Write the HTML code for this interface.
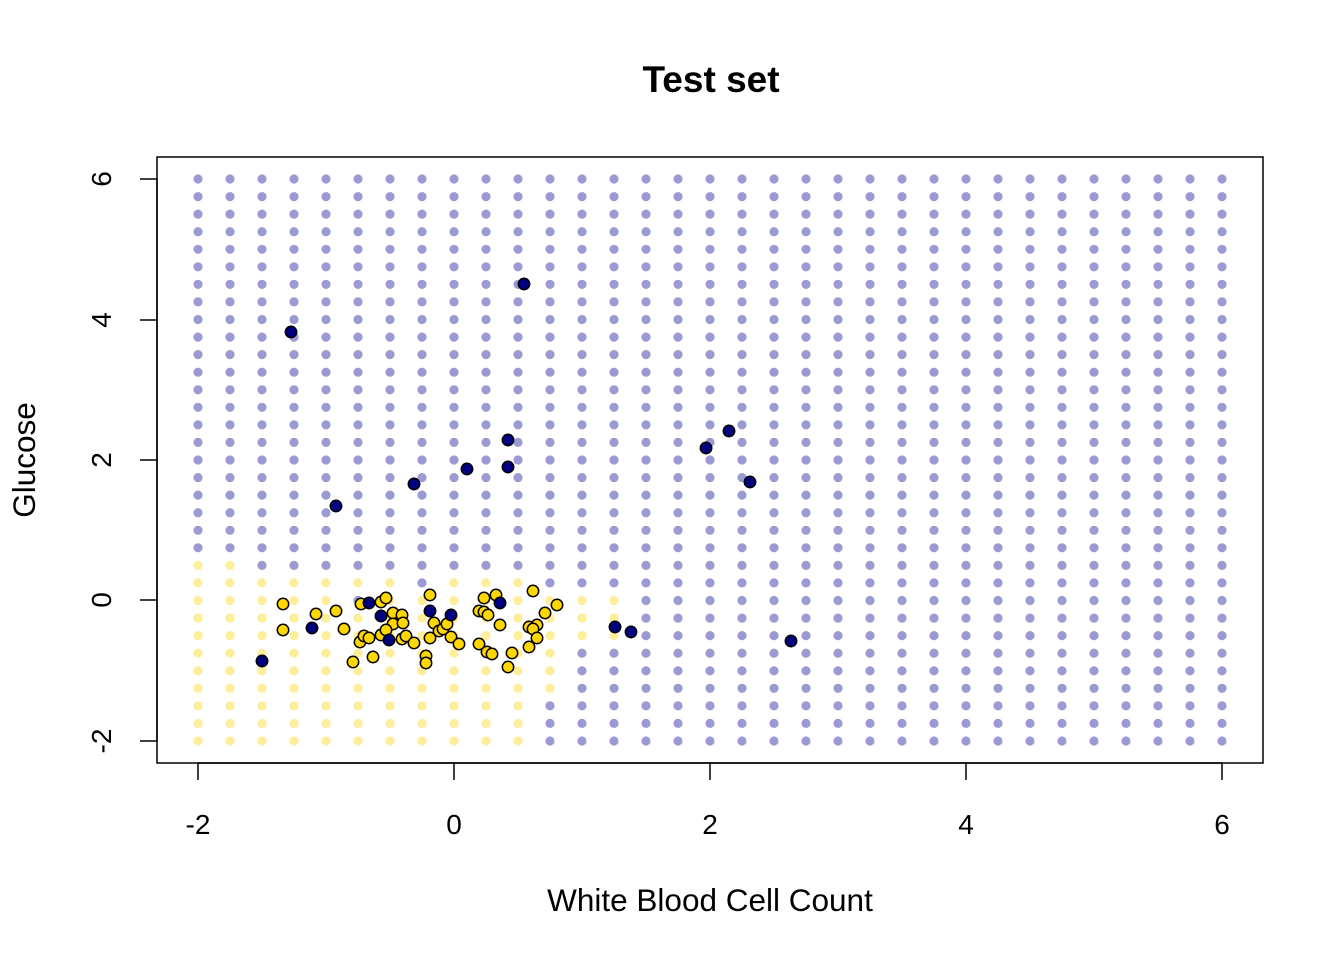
<!DOCTYPE html>
<html><head><meta charset="utf-8"><style>
body{margin:0;background:#fff;}
svg{display:block;font-family:"Liberation Sans",Arial,sans-serif;}
</style></head><body>
<svg id="s" width="1344" height="960" viewBox="0 0 1344 960" xmlns="http://www.w3.org/2000/svg">
<rect width="1344" height="960" fill="#fff"/>
<g id="grid"></g>
<g id="pts" stroke="#000" stroke-width="1.5"></g>
<rect x="157" y="157" width="1106" height="606" fill="none" stroke="#000" stroke-width="1.5"/>
<g stroke="#000" stroke-width="1.5">
<line x1="198" y1="763" x2="1222" y2="763"/>
<line x1="198" y1="763" x2="198" y2="780"/><line x1="454" y1="763" x2="454" y2="780"/><line x1="710" y1="763" x2="710" y2="780"/><line x1="966" y1="763" x2="966" y2="780"/><line x1="1222" y1="763" x2="1222" y2="780"/>
<line x1="157" y1="179" x2="157" y2="741"/>
<line x1="157" y1="179" x2="140" y2="179"/><line x1="157" y1="320" x2="140" y2="320"/><line x1="157" y1="460" x2="140" y2="460"/><line x1="157" y1="600" x2="140" y2="600"/><line x1="157" y1="741" x2="140" y2="741"/>
</g>
<g font-size="28" text-anchor="middle" fill="#000">
<text x="198" y="834">-2</text><text x="454" y="834">0</text><text x="710" y="834">2</text><text x="966" y="834">4</text><text x="1222" y="834">6</text>
<text transform="translate(111,179) rotate(-90)">6</text>
<text transform="translate(111,320) rotate(-90)">4</text>
<text transform="translate(111,460) rotate(-90)">2</text>
<text transform="translate(111,600) rotate(-90)">0</text>
<text transform="translate(111,741) rotate(-90)">-2</text>
<text x="710" y="911" font-size="31.5">White Blood Cell Count</text>
<text transform="translate(35,460) rotate(-90)" font-size="31.5">Glucose</text>
<text x="711" y="92" font-size="37" font-weight="bold">Test set</text>
</g>
</svg>
<script>
var g=document.getElementById("grid"),h="";
for(var i=0;i<33;i++){for(var j=0;j<33;j++){
 var x=198+i*32, y=179+j*17.5625;
 var yc=false, row=j;
 if(row==22 && i<=1) yc=true;
 if(row==23 && (i<=6 || (i>=8&&i<=10))) yc=true;
 if(row>=24 && i<=10) yc=true;
 if(row==24 && i==5) yc=false;
 if(i==11 && row>=24 && row<=29) yc=true;
 if((i==12||i==13) && row>=24 && row<=26) yc=true;
 h+='<circle cx="'+x+'" cy="'+y.toFixed(1)+'" r="4.6" fill="'+(yc?'#ffee99':'#9b9bd3')+'"/>';
}}
g.innerHTML=h;
var navy=[[262,661],[312,628],[369,603],[381,616],[389,640],[430,611],[451,615],[500,603],[615,627],[631,632],[291,332],[524,284],[508,440],[467,469],[508,467],[414,484],[336,506],[706,448],[729,431],[750,482],[791,641]];
var gold=[[283,604],[283,630],[316,614],[336,611],[344,629],[353,662],[373,657],[361,604],[381,602],[386,598],[393,613],[402,615],[393,624],[403,623],[360,642],[364,636],[369,638],[381,635],[386,630],[402,639],[406,636],[414,643],[426,656],[426,663],[430,595],[430,638],[434,623],[439,631],[443,629],[447,624],[451,637],[459,644],[479,644],[487,652],[492,654],[484,598],[496,595],[479,611],[484,612],[488,615],[500,625],[512,653],[508,667],[529,647],[533,591],[529,627],[537,625],[533,629],[537,638],[545,613],[557,605]];
var p="";
gold.forEach(function(a){p+='<circle cx="'+a[0]+'" cy="'+a[1]+'" r="5.7" fill="#ffd700"/>';});
navy.forEach(function(a){p+='<circle cx="'+a[0]+'" cy="'+a[1]+'" r="5.7" fill="#000080"/>';});
document.getElementById("pts").innerHTML=p;
</script>
</body></html>
